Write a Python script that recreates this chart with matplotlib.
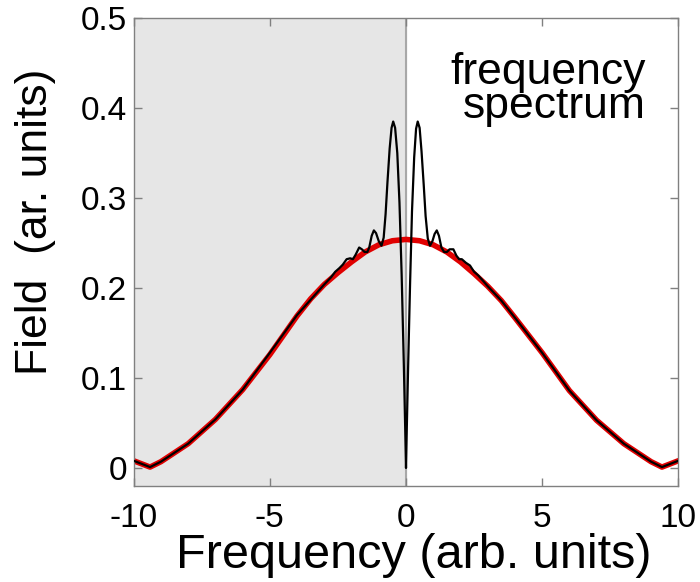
import numpy as np
import matplotlib
matplotlib.use('Agg')
import matplotlib.pyplot as plt

plt.rcParams['font.family'] = ['Liberation Sans', 'DejaVu Sans']

# ---- values ----
red_x = [-10, -9.4, -9, -8, -7, -6, -5, -4, -3.5, -3, -2.5, -2, -1.5, -1, -0.5, 0,
         0.5, 1, 1.5, 2, 2.5, 3, 3.5, 4, 5, 6, 7, 8, 9, 9.4, 10]
red_y = [0.008, 0.001, 0.007, 0.027, 0.054, 0.087, 0.126, 0.169, 0.188, 0.204,
         0.217, 0.229, 0.240, 0.248, 0.2525, 0.254,
         0.2525, 0.248, 0.240, 0.229, 0.216, 0.202, 0.186, 0.167, 0.128, 0.086,
         0.053, 0.027, 0.007, 0.001, 0.008]

black_x = [-10, -9.4, -9, -8, -7, -6, -5, -4, -3.5, -3.0, -2.75, -2.6, -2.45,
           -2.32, -2.18, -2.05, -1.95, -1.85, -1.72, -1.62, -1.52, -1.42, -1.35,
           -1.26, -1.18, -1.10, -1.00, -0.90, -0.82, -0.75, -0.68, -0.60, -0.53,
           -0.47, -0.40, -0.32, -0.24, -0.16, -0.08, -0.03, 0.0,
           0.03, 0.08, 0.15, 0.22, 0.30, 0.37, 0.43, 0.50, 0.57, 0.65, 0.72,
           0.80, 0.88, 0.97, 1.05, 1.13, 1.21, 1.30, 1.40, 1.50, 1.60, 1.74,
           1.85, 1.95, 2.05, 2.2, 2.35, 2.5, 2.65, 2.8, 3.0, 3.5, 4, 5, 6, 7,
           8, 9, 9.4, 10]
black_y = [0.008, 0.001, 0.007, 0.027, 0.054, 0.087, 0.128, 0.170, 0.187, 0.204,
           0.212, 0.218, 0.222, 0.226, 0.232, 0.233, 0.232, 0.237, 0.245, 0.243,
           0.240, 0.240, 0.245, 0.258, 0.264, 0.261, 0.252, 0.247, 0.256, 0.282,
           0.318, 0.355, 0.378, 0.385, 0.378, 0.350, 0.295, 0.215, 0.115, 0.045,
           0.0,
           0.045, 0.115, 0.205, 0.285, 0.345, 0.377, 0.385, 0.378, 0.352, 0.315,
           0.280, 0.255, 0.247, 0.252, 0.260, 0.264, 0.258, 0.245, 0.240, 0.240,
           0.243, 0.243, 0.236, 0.232, 0.232, 0.228, 0.225, 0.218, 0.214, 0.209,
           0.202, 0.186, 0.167, 0.128, 0.086, 0.053, 0.027, 0.007, 0.001, 0.008]

x_ticks = [-10, -5, 0, 5, 10]
y_ticks = [0, 0.1, 0.2, 0.3, 0.4, 0.5]
y_ticklabels = ['0', '0.1', '0.2', '0.3', '0.4', '0.5']

fig = plt.figure(figsize=(7, 5.82), dpi=100)
ax = fig.add_axes([0.191, 0.165, 0.778, 0.804])

# shaded negative-frequency half
ax.axvspan(-10, 0, color='#e6e6e6', zorder=0)
ax.axvline(0, color='#a8a8a8', linewidth=1.5, zorder=1)

ax.plot(red_x, red_y, color='#e00000', linewidth=4, zorder=2)
ax.plot(black_x, black_y, color='black', linewidth=1.6, zorder=3)

ax.text(8.8, 0.4206, 'frequency\nspectrum', fontsize=32, ha='right',
        va='center', multialignment='right', linespacing=0.8)

ax.set_xlim(-10, 10)
ax.set_ylim(-0.02, 0.5)
ax.set_xticks(x_ticks)
ax.set_xticklabels([str(t) for t in x_ticks])
ax.set_yticks(y_ticks)
ax.set_yticklabels(y_ticklabels)

ax.tick_params(direction='in', length=6, width=1, colors='#808080',
               labelcolor='black', labelsize=24, top=True, right=True)
ax.tick_params(axis='x', pad=12)
ax.tick_params(axis='y', pad=5)
for sp in ax.spines.values():
    sp.set_color('#808080')
    sp.set_linewidth(1)

ax.set_xlabel('Frequency (arb. units)', fontsize=35)
ax.set_ylabel('Field  (ar. units)', fontsize=32)
ax.xaxis.set_label_coords(0.515, -0.100)
ax.yaxis.set_label_coords(-0.143, 0.565)

plt.savefig('out.png', dpi=100)
